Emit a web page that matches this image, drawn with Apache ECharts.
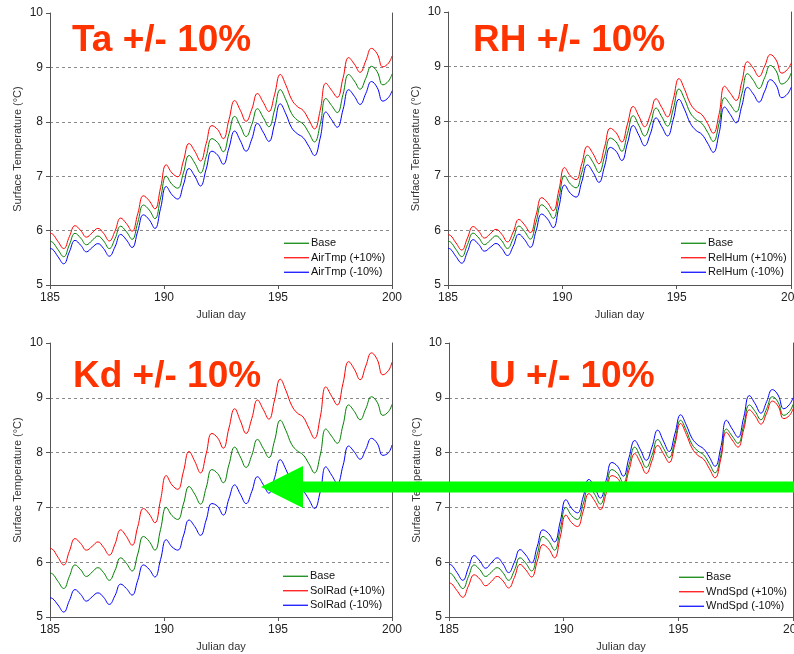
<!DOCTYPE html>
<html>
<head>
<meta charset="utf-8">
<script src="https://cdn.jsdelivr.net/npm/echarts@6/dist/echarts.min.js"></script>
<style>
  html, body { margin: 0; padding: 0; background: #fff; }
  #chart { width: 794px; height: 654px; }
</style>
</head>
<body>
<div id="chart"></div>
<script>
// Julian day sample times (daily peak, falling limb, trough, rising limb)
const days = [185, 185.1, 185.35, 185.6, 185.85,
  186.1, 186.35, 186.6, 186.85, 187.1, 187.35, 187.6, 187.85,
  188.1, 188.35, 188.6, 188.85, 189.1, 189.35, 189.6, 189.85,
  190.1, 190.35, 190.6, 190.85, 191.1, 191.35, 191.6, 191.85,
  192.1, 192.35, 192.6, 192.85, 193.1, 193.35, 193.6, 193.85,
  194.1, 194.35, 194.6, 194.85, 195.1, 195.35, 195.6, 195.85,
  196.1, 196.35, 196.6, 196.85, 197.1, 197.35, 197.6, 197.85,
  198.1, 198.35, 198.6, 198.85, 199.1, 199.35, 199.6, 199.85, 200];

// Surface temperature (°C), base run
const baseTemp = [5.80, 5.79, 5.65, 5.52, 5.74,
  5.95, 5.86, 5.74, 5.82, 5.90, 5.81, 5.67, 5.85,
  6.08, 5.98, 5.84, 6.15, 6.47, 6.38, 6.22, 6.60,
  7.00, 6.85, 6.78, 7.06, 7.38, 7.24, 7.06, 7.36,
  7.69, 7.62, 7.45, 7.78, 8.10, 7.92, 7.73, 7.95,
  8.24, 8.08, 7.91, 8.22, 8.59, 8.40, 8.15, 8.03,
  7.96, 7.80, 7.63, 7.95, 8.43, 8.30, 8.17, 8.50,
  8.87, 8.75, 8.60, 8.80, 9.02, 8.92, 8.68, 8.75, 8.88];

// Air temperature +/- 10%
const airTmpPlus = [5.95, 5.94, 5.80, 5.67, 5.89,
  6.09, 6.00, 5.88, 5.96, 6.04, 5.95, 5.81, 5.99,
  6.23, 6.13, 5.99, 6.31, 6.64, 6.55, 6.40, 6.79,
  7.21, 7.06, 6.99, 7.28, 7.60, 7.46, 7.28, 7.60,
  7.93, 7.86, 7.69, 8.04, 8.39, 8.21, 8.01, 8.23,
  8.52, 8.36, 8.19, 8.50, 8.87, 8.67, 8.41, 8.28,
  8.21, 8.04, 7.87, 8.21, 8.71, 8.58, 8.45, 8.80,
  9.18, 9.06, 8.91, 9.12, 9.35, 9.25, 9.01, 9.08, 9.21];
const airTmpMinus = [5.67, 5.66, 5.52, 5.39, 5.61,
  5.82, 5.73, 5.61, 5.69, 5.76, 5.67, 5.53, 5.70,
  5.93, 5.83, 5.69, 5.99, 6.29, 6.20, 6.04, 6.41,
  6.81, 6.66, 6.58, 6.84, 7.14, 7.00, 6.82, 7.13,
  7.46, 7.39, 7.22, 7.52, 7.83, 7.65, 7.46, 7.68,
  7.97, 7.81, 7.64, 7.96, 8.33, 8.14, 7.89, 7.78,
  7.71, 7.55, 7.38, 7.70, 8.18, 8.04, 7.90, 8.22,
  8.59, 8.47, 8.32, 8.52, 8.74, 8.63, 8.38, 8.45, 8.57];

// Relative humidity +/- 10%
const relHumPlus = [5.92, 5.91, 5.77, 5.64, 5.86,
  6.07, 5.98, 5.86, 5.94, 6.02, 5.93, 5.79, 5.97,
  6.20, 6.10, 5.96, 6.28, 6.60, 6.51, 6.36, 6.74,
  7.15, 7.00, 6.93, 7.22, 7.54, 7.40, 7.22, 7.53,
  7.87, 7.79, 7.62, 7.95, 8.27, 8.09, 7.90, 8.12,
  8.41, 8.25, 8.08, 8.40, 8.78, 8.58, 8.32, 8.19,
  8.12, 7.96, 7.78, 8.12, 8.64, 8.51, 8.38, 8.72,
  9.09, 8.97, 8.82, 9.01, 9.22, 9.12, 8.88, 8.95, 9.06];
const relHumMinus = [5.67, 5.66, 5.52, 5.40, 5.61,
  5.83, 5.74, 5.62, 5.69, 5.76, 5.67, 5.54, 5.71,
  5.93, 5.83, 5.69, 5.99, 6.30, 6.21, 6.05, 6.43,
  6.83, 6.68, 6.61, 6.89, 7.20, 7.06, 6.88, 7.18,
  7.52, 7.45, 7.28, 7.60, 7.92, 7.74, 7.55, 7.77,
  8.06, 7.90, 7.73, 8.03, 8.40, 8.21, 7.96, 7.83,
  7.76, 7.60, 7.43, 7.77, 8.26, 8.12, 7.97, 8.28,
  8.62, 8.50, 8.35, 8.55, 8.76, 8.66, 8.43, 8.50, 8.62];

// Solar radiation +/- 10%
const solRadPlus = [6.25, 6.24, 6.09, 5.95, 6.20,
  6.43, 6.34, 6.22, 6.29, 6.37, 6.27, 6.13, 6.33,
  6.59, 6.47, 6.31, 6.65, 6.98, 6.88, 6.72, 7.14,
  7.58, 7.41, 7.33, 7.65, 8.02, 7.84, 7.63, 7.98,
  8.35, 8.27, 8.08, 8.45, 8.80, 8.58, 8.35, 8.62,
  8.96, 8.79, 8.61, 8.96, 9.34, 9.13, 8.86, 8.72,
  8.65, 8.45, 8.26, 8.64, 9.20, 9.03, 8.87, 9.26,
  9.66, 9.52, 9.33, 9.58, 9.82, 9.70, 9.42, 9.50, 9.65];
const solRadMinus = [5.35, 5.34, 5.22, 5.09, 5.30,
  5.50, 5.41, 5.29, 5.37, 5.44, 5.36, 5.23, 5.39,
  5.60, 5.52, 5.40, 5.67, 5.95, 5.87, 5.73, 6.05,
  6.41, 6.28, 6.22, 6.48, 6.77, 6.65, 6.49, 6.77,
  7.07, 7.02, 6.86, 7.16, 7.41, 7.24, 7.07, 7.29,
  7.56, 7.42, 7.26, 7.54, 7.87, 7.69, 7.46, 7.36,
  7.30, 7.15, 6.98, 7.28, 7.74, 7.59, 7.44, 7.76,
  8.12, 8.01, 7.88, 8.06, 8.26, 8.17, 7.95, 8.00, 8.14];

// Wind speed +/- 10%
const wndSpdPlus = [5.62, 5.61, 5.48, 5.36, 5.57,
  5.77, 5.69, 5.57, 5.65, 5.74, 5.66, 5.53, 5.72,
  5.96, 5.86, 5.73, 6.02, 6.32, 6.24, 6.08, 6.46,
  6.86, 6.72, 6.65, 6.93, 7.25, 7.12, 6.96, 7.25,
  7.58, 7.53, 7.38, 7.68, 7.98, 7.81, 7.62, 7.85,
  8.13, 7.98, 7.82, 8.15, 8.53, 8.33, 8.08, 7.95,
  7.88, 7.71, 7.54, 7.88, 8.37, 8.23, 8.10, 8.42,
  8.78, 8.67, 8.52, 8.72, 8.94, 8.85, 8.62, 8.68, 8.80];
const wndSpdMinus = [5.96, 5.95, 5.81, 5.67, 5.90,
  6.12, 6.02, 5.89, 5.99, 6.08, 5.97, 5.81, 6.00,
  6.23, 6.13, 5.99, 6.29, 6.59, 6.52, 6.37, 6.74,
  7.14, 6.98, 6.90, 7.19, 7.51, 7.36, 7.17, 7.49,
  7.82, 7.75, 7.57, 7.91, 8.22, 8.05, 7.86, 8.10,
  8.41, 8.21, 8.02, 8.34, 8.69, 8.50, 8.26, 8.14,
  8.07, 7.92, 7.75, 8.09, 8.59, 8.43, 8.28, 8.64,
  9.04, 8.89, 8.72, 8.93, 9.15, 9.05, 8.80, 8.88, 9.00];

const panelTitles = ['Ta +/- 10%', 'RH +/- 10%', 'Kd +/- 10%', 'U +/- 10%'];
const plusNames  = ['AirTmp (+10%)', 'RelHum (+10%)', 'SolRad (+10%)', 'WndSpd (+10%)'];
const minusNames = ['AirTmp (-10%)', 'RelHum (-10%)', 'SolRad (-10%)', 'WndSpd (-10%)'];
const plusRuns  = [airTmpPlus, relHumPlus, solRadPlus, wndSpdPlus];
const minusRuns = [airTmpMinus, relHumMinus, solRadMinus, wndSpdMinus];
const xTicks = { min: 185, max: 200, step: 5 };
const yTicks = { min: 5, max: 10, step: 1 };

const FONT = '"Liberation Sans", Arial, Helvetica, sans-serif';
const BASE_COLOR = '#008000', PLUS_COLOR = '#ff0000', MINUS_COLOR = '#0000ff';
const grids = [
  { left: 50,  top: 13,  width: 342, height: 272 },
  { left: 448, top: 12,  width: 343, height: 273 },
  { left: 50,  top: 343, width: 342, height: 274 },
  { left: 449, top: 343, width: 344, height: 274 }
].map(g => Object.assign({ outerBoundsMode: 'none', containLabel: false }, g));
const titlePos = [[72, 22], [473, 22], [73, 358], [489, 358]];
const legendPos = [[284, 236], [681, 236], [283, 569], [679, 570]];

const pairs = arr => days.map((d, i) => [d, arr[i]]);
const lineSeries = (name, arr, color, idx) => ({
  type: 'line', name, data: pairs(arr), xAxisIndex: idx, yAxisIndex: idx * 2,
  symbol: 'none', smooth: 0.45, animation: false,
  lineStyle: { color, width: 1 }, itemStyle: { color }
});
const legendItem = (name, color) => ({
  name, icon: 'rect', itemStyle: { color, borderWidth: 0 }, lineStyle: { color, width: 0 }
});

const xAxes = [], yAxes = [], series = [], legends = [], titles = [];
grids.forEach((g, i) => {
  xAxes.push({
    type: 'value', gridIndex: i, min: xTicks.min, max: xTicks.max, interval: xTicks.step,
    name: 'Julian day', nameLocation: 'middle', nameGap: 24,
    nameTextStyle: { fontFamily: FONT, fontSize: 11, color: '#333' },
    axisLine: { lineStyle: { color: '#555', width: 1 } },
    axisTick: { show: true, length: 4, lineStyle: { color: '#555' } },
    axisLabel: { fontFamily: FONT, fontSize: 12, color: '#222', margin: 7,
      showMinLabel: true, showMaxLabel: true },
    splitLine: { show: false }
  });
  yAxes.push({
    type: 'value', gridIndex: i, min: yTicks.min, max: yTicks.max, interval: yTicks.step,
    name: 'Surface Temperature (°C)', nameLocation: 'middle', nameGap: 27,
    nameTextStyle: { fontFamily: FONT, fontSize: 11, color: '#333' },
    axisLine: { show: true, lineStyle: { color: '#555', width: 1 } },
    axisTick: { show: true, length: 4, lineStyle: { color: '#555' } },
    axisLabel: { fontFamily: FONT, fontSize: 12, color: '#222', margin: 7 },
    splitLine: { show: true, showMinLine: false, showMaxLine: false,
      lineStyle: { color: '#8a8a8a', type: [3, 3], width: 1 } }
  });
  // frame line on the right side of each plot
  yAxes.push({
    type: 'value', gridIndex: i, position: 'right', min: yTicks.min, max: yTicks.max,
    axisLine: { show: true, lineStyle: { color: '#555', width: 1 } },
    axisTick: { show: false }, axisLabel: { show: false }, splitLine: { show: false }
  });
  series.push(lineSeries('Base', baseTemp, BASE_COLOR, i));
  series.push(lineSeries(plusNames[i], plusRuns[i], PLUS_COLOR, i));
  series.push(lineSeries(minusNames[i], minusRuns[i], MINUS_COLOR, i));
  legends.push({
    left: legendPos[i][0], top: legendPos[i][1], orient: 'vertical', padding: 0,
    itemGap: 0, itemWidth: 25, itemHeight: 1.2,
    selectedMode: false,
    data: [legendItem('Base', BASE_COLOR), legendItem(plusNames[i], PLUS_COLOR),
           legendItem(minusNames[i], MINUS_COLOR)],
    textStyle: { fontFamily: FONT, fontSize: 11, color: '#111', lineHeight: 14.5,
      padding: [0, 0, 0, -3] }
  });
  titles.push({
    text: panelTitles[i], left: titlePos[i][0], top: titlePos[i][1], padding: 0,
    textStyle: { fontFamily: FONT, fontSize: 37, fontWeight: 'bold', color: '#ff3300' }
  });
});

const chart = echarts.init(document.getElementById('chart'), null, { renderer: 'canvas' });
chart.setOption({
  animation: false,
  backgroundColor: '#ffffff',
  title: titles,
  legend: legends,
  grid: grids,
  xAxis: xAxes,
  yAxis: yAxes,
  series: series,
  graphic: [{
    type: 'polygon', z: 100,
    shape: { points: [[261, 487], [303, 466], [303, 481.5], [794, 481.5],
                      [794, 492.5], [303, 492.5], [303, 508]] },
    style: { fill: '#00ff00', stroke: null }
  }]
});
</script>
</body>
</html>
